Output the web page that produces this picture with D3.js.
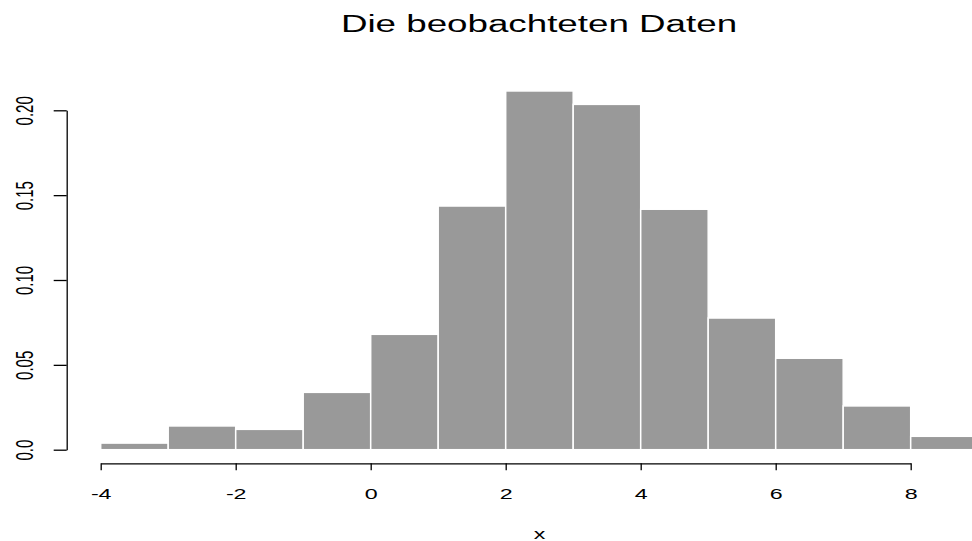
<!DOCTYPE html>
<html>
<head>
<meta charset="utf-8">
<script src="https://cdn.jsdelivr.net/npm/d3@7"></script>
<style>
  body { margin: 0; background: #fff; }
  svg text { font-family: "Liberation Sans", Arial, sans-serif; fill: #000; }
</style>
</head>
<body>
<div id="chart"></div>
<script>
// bins of the histogram (left edges, width 1) and their densities
var binStarts = [-4, -3, -2, -1, 0, 1, 2, 3, 4, 5, 6, 7, 8];
var densities = [0.0039, 0.014, 0.012, 0.0338, 0.068, 0.1436, 0.2114, 0.2035, 0.1417, 0.0776, 0.0539, 0.0258, 0.0079];
var xTicks = [-4, -2, 0, 2, 4, 6, 8];
var yTicks = [0, 0.05, 0.10, 0.15, 0.20];
var yTickLabels = ["0.0", "0.05", "0.10", "0.15", "0.20"];

var width = 972;
var height = 541;
var stretch = 1.55; // text in the original is drawn wider than tall

var svg = d3.select("#chart").append("svg")
    .attr("width", width)
    .attr("height", height);

var xScale = d3.scaleLinear()
    .domain([-4, 8])
    .range([100.7, 910.7]);

var yScale = d3.scaleLinear()
    .domain([0, 0.2])
    .range([449.7, 110.3]);

// bars
svg.selectAll(".bar")
    .data(densities)
    .enter()
    .append("rect")
    .attr("class", "bar")
    .attr("x", (d, i) => xScale(binStarts[i]))
    .attr("y", d => yScale(d))
    .attr("width", (d, i) => xScale(binStarts[i] + 1) - xScale(binStarts[i]))
    .attr("height", d => yScale(0) - yScale(d))
    .style("fill", "#999999")
    .style("stroke", "#ffffff")
    .style("stroke-width", 1.5);

// x axis
var xAxis = svg.append("g")
    .attr("class", "x-axis")
    .attr("transform", "translate(0,463.3)")
    .call(d3.axisBottom(xScale).tickValues(xTicks).tickSize(7).tickSizeOuter(0)
        .tickFormat(d => d < 0 ? "-" + Math.abs(d) : d));
xAxis.select(".domain").attr("stroke", "#000").attr("stroke-width", 1.3);
xAxis.selectAll(".tick line").attr("stroke", "#000").attr("stroke-width", 1.3);
xAxis.selectAll("text")
    .attr("y", null)
    .attr("dy", null)
    .attr("transform", "translate(0,36) scale(" + stretch + ",1)")
    .attr("font-family", null)
    .style("font-size", "15px");

// y axis
var yAxis = svg.append("g")
    .attr("class", "y-axis")
    .attr("transform", "translate(66.7,0)")
    .call(d3.axisLeft(yScale).tickValues(yTicks).tickSize(13).tickSizeOuter(0)
        .tickFormat((d, i) => yTickLabels[i]));
yAxis.select(".domain").attr("stroke", "#000").attr("stroke-width", 1.3);
yAxis.selectAll(".tick line").attr("stroke", "#000").attr("stroke-width", 1.3);
yAxis.selectAll("text")
    .attr("x", null)
    .attr("dy", null)
    .attr("transform", "translate(-33.7,0) scale(" + stretch + ",1) rotate(-90)")
    .attr("text-anchor", "middle")
    .attr("font-family", null)
    .style("font-size", "15px");

// title
svg.append("text")
    .attr("class", "chart-title")
    .attr("transform", "translate(539,31.7) scale(1.5,1)")
    .attr("text-anchor", "middle")
    .style("font-size", "24.5px")
    .text("Die beobachteten Daten");

// x axis title
svg.append("text")
    .attr("class", "x-axis-title")
    .attr("transform", "translate(539.5,539) scale(" + stretch + ",1)")
    .attr("text-anchor", "middle")
    .style("font-size", "15px")
    .text("x");
</script>
</body>
</html>
